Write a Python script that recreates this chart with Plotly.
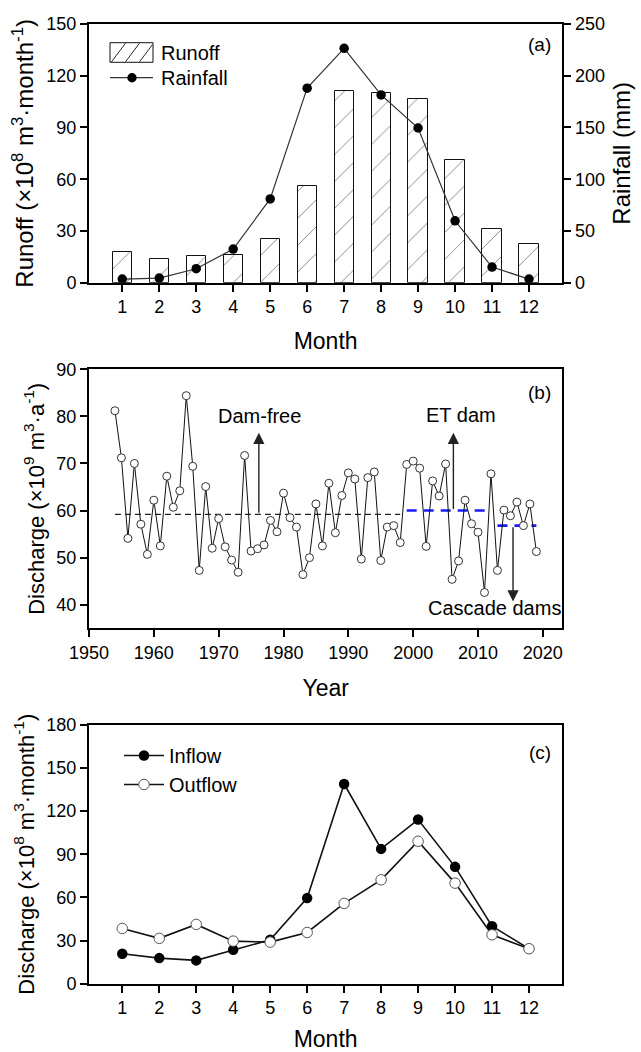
import plotly.graph_objects as go

# ---------------- data ----------------
months = list(range(1, 13))
runoff = [17.9, 13.7, 15.2, 16.0, 25.4, 56.1, 111.2, 109.9, 106.4, 71.3, 31.4, 22.6]
rainfall = [3.5, 4.5, 13.5, 32.5, 81.0, 188.0, 226.5, 181.5, 149.5, 59.8, 15.1, 3.5]

years = list(range(1954, 2020))
discharge = [81.2, 71.2, 54.1, 70.0, 57.1, 50.7, 62.2, 52.5, 67.3, 60.7,
             64.2, 84.4, 69.4, 47.3, 65.1, 52.0, 58.3, 52.3, 49.5, 46.9,
             71.7, 51.4, 51.9, 52.7, 57.9, 55.5, 63.7, 58.5, 56.5, 46.4,
             50.0, 61.4, 52.5, 65.8, 55.3, 63.2, 68.0, 66.7, 49.7, 67.0,
             68.2, 49.4, 56.5, 56.8, 53.2, 69.8, 70.5, 69.0, 52.4, 66.3,
             63.1, 69.9, 45.4, 49.3, 62.2, 57.2, 55.4, 42.6, 67.8, 47.3,
             60.1, 58.9, 61.8, 56.8, 61.4, 51.3]

period_start = [1954, 1999, 2013]
period_end = [1998, 2011.6, 2019]
period_mean = [59.2, 60.0, 56.8]
period_color = ["#222222", "#1a1aff", "#1a1aff"]

arrow_labels = ["Dam-free", "ET dam", "Cascade dams"]
arrow_x = [1976.2, 2006.2, 2015.4]
arrow_from = [59.2, 60.0, 56.8]
arrow_to = [76.5, 76.5, 40.7]
label_x = [1976.3, 2007.3, 2012.6]
label_y = [80.1, 80.3, 39.3]

inflow = [20.8, 17.8, 16.2, 23.6, 30.5, 59.5, 138.8, 93.7, 114.1, 81.2, 40.0, 24.3]
outflow = [38.4, 31.5, 41.2, 29.6, 28.9, 35.6, 55.8, 72.2, 99.0, 69.9, 34.0, 24.3]

# ---------------- layout helpers ----------------
W, H = 641, 1052
FONT = "Liberation Sans, Arial, sans-serif"


def px_x(p):
    return p / W


def px_y(p):
    return 1 - p / H


xdom = [px_x(89), px_x(562.3)]

fig = go.Figure()

# (a) runoff bars + rainfall line
fig.add_trace(go.Bar(
    x=months, y=runoff, name="Runoff", width=0.52, showlegend=False,
    marker=dict(color="white", line=dict(color="#111111", width=1),
                pattern=dict(shape="/", size=19, solidity=0.05,
                             fgcolor="#111111", bgcolor="white")),
    xaxis="x", yaxis="y"))
fig.add_trace(go.Scatter(
    x=months, y=rainfall, name="Rainfall", mode="lines+markers", showlegend=False,
    line=dict(color="#333333", width=1.2),
    marker=dict(color="black", size=9.5),
    xaxis="x", yaxis="y2"))

# (b) annual discharge
for s, e, m, c in zip(period_start, period_end, period_mean, period_color):
    is_blue = c != "#222222"
    fig.add_trace(go.Scatter(
        x=[s, e], y=[m, m], mode="lines", showlegend=False,
        line=dict(color=c, width=2.6 if is_blue else 1.4,
                  dash="10px,7px" if is_blue else "6px,4px"),
        xaxis="x2", yaxis="y3"))
fig.add_trace(go.Scatter(
    x=years, y=discharge, mode="lines+markers", showlegend=False,
    line=dict(color="#111111", width=1),
    marker=dict(symbol="circle", size=8, color="white",
                line=dict(color="#333333", width=1)),
    xaxis="x2", yaxis="y3"))

# (c) inflow / outflow
fig.add_trace(go.Scatter(
    x=months, y=inflow, name="Inflow", mode="lines+markers",
    line=dict(color="#111111", width=1.6),
    marker=dict(color="black", size=10.5),
    xaxis="x3", yaxis="y4", legend="legend"))
fig.add_trace(go.Scatter(
    x=months, y=outflow, name="Outflow", mode="lines+markers",
    line=dict(color="#111111", width=1.6),
    marker=dict(color="white", size=10.5, line=dict(color="#555555", width=1)),
    xaxis="x3", yaxis="y4", legend="legend"))

tickfont = dict(family=FONT, size=18, color="black")
axis_common = dict(showline=True, linecolor="black", linewidth=2,
                   ticks="outside", ticklen=7, tickwidth=1.5, tickcolor="black",
                   showgrid=False, zeroline=False, tickfont=tickfont,
                   automargin=False)

month_x = dict(axis_common, range=[0.1, 12.9], tickmode="array",
               tickvals=months, ticktext=[str(m) for m in months],
               mirror=True, domain=xdom)

fig.update_layout(
    width=W, height=H,
    margin=dict(l=0, r=0, t=0, b=0),
    paper_bgcolor="white", plot_bgcolor="white",
    font=dict(family=FONT, color="black"),
    bargap=0,
    xaxis=dict(month_x, anchor="y",
               title=dict(text="Month", font=dict(size=23), standoff=17)),
    yaxis=dict(axis_common, domain=[px_y(282.7), px_y(24)], range=[0, 150],
               tickvals=[0, 30, 60, 90, 120, 150], anchor="x",
               title=dict(text="Runoff (×10<sup>8</sup> m<sup>3</sup>·month<sup>-1</sup>)",
                          font=dict(size=24), standoff=6)),
    yaxis2=dict(axis_common, overlaying="y", side="right", range=[0, 250],
                tickvals=[0, 50, 100, 150, 200, 250], anchor="x",
                title=dict(text="Rainfall (mm)", font=dict(size=24), standoff=9)),
    xaxis2=dict(axis_common, domain=xdom, range=[1950, 2023],
                tickvals=[1950, 1960, 1970, 1980, 1990, 2000, 2010, 2020],
                mirror=True, anchor="y3",
                title=dict(text="Year", font=dict(size=23), standoff=18)),
    yaxis3=dict(axis_common, domain=[px_y(628.3), px_y(369.3)], range=[35, 90],
                tickvals=[40, 50, 60, 70, 80, 90], mirror=True, anchor="x2",
                title=dict(text="Discharge (×10<sup>9</sup> m<sup>3</sup>·a<sup>-1</sup>)",
                           font=dict(size=22), standoff=6)),
    xaxis3=dict(month_x, anchor="y4",
                title=dict(text="Month", font=dict(size=23), standoff=17)),
    yaxis4=dict(axis_common, domain=[px_y(983.7), px_y(724.7)], range=[0, 180],
                tickvals=[0, 30, 60, 90, 120, 150, 180], mirror=True, anchor="x3",
                title=dict(text="Discharge (×10<sup>8</sup> m<sup>3</sup>·month<sup>-1</sup>)",
                           font=dict(size=22), standoff=6)),
    legend=dict(x=px_x(119), y=px_y(736), xanchor="left", yanchor="top",
                bgcolor="rgba(0,0,0,0)", font=dict(family=FONT, size=20),
                tracegroupgap=0, itemwidth=40),
)

# ---- legend of panel (a), drawn as decoration (hatched box + line key) ----
shapes = []
bx0, bx1, by0, by1 = 110, 153, 42.7, 62.3
shapes.append(dict(type="rect", xref="paper", yref="paper",
                   x0=px_x(bx0), x1=px_x(bx1), y0=px_y(by1), y1=px_y(by0),
                   line=dict(color="#111111", width=1), fillcolor="white"))
for d in [111.5, 125.5, 139.5]:
    xe = min(d + 14, bx1 - 0.5)
    ye = by1 - (xe - d) / 14 * (by1 - by0)
    shapes.append(dict(type="line", xref="paper", yref="paper",
                       x0=px_x(d), y0=px_y(by1 - 0.5), x1=px_x(xe), y1=px_y(ye + 0.5),
                       line=dict(color="#2a2a2a", width=1)))
ly = 77.7
shapes.append(dict(type="line", xref="paper", yref="paper",
                   x0=px_x(110), x1=px_x(153), y0=px_y(ly), y1=px_y(ly),
                   line=dict(color="#333333", width=1.2)))
shapes.append(dict(type="circle", xref="paper", yref="paper",
                   x0=px_x(132 - 4.7), x1=px_x(132 + 4.7),
                   y0=px_y(ly + 4.7), y1=px_y(ly - 4.7),
                   line=dict(color="black", width=0), fillcolor="black"))

annotations = []
for lab, yy in [("Runoff", 52.5), ("Rainfall", 77.7)]:
    annotations.append(dict(text=lab, xref="paper", yref="paper",
                            x=px_x(159), y=px_y(yy), xanchor="left",
                            yanchor="middle", showarrow=False,
                            font=dict(family=FONT, size=20)))
for lab, yy in zip(["(a)", "(b)", "(c)"], [44, 392, 752]):
    annotations.append(dict(text=lab, xref="paper", yref="paper",
                            x=px_x(553), y=px_y(yy), xanchor="right",
                            yanchor="middle", showarrow=False,
                            font=dict(family=FONT, size=19)))
for ax_, a0, a1 in zip(arrow_x, arrow_from, arrow_to):
    annotations.append(dict(text="", x=ax_, y=a1, ax=ax_, ay=a0,
                            xref="x2", yref="y3", axref="x2", ayref="y3",
                            showarrow=True, arrowhead=2, arrowsize=1.6,
                            arrowwidth=1.4, arrowcolor="#222222"))
for lab, lx, ly_ in zip(arrow_labels, label_x, label_y):
    annotations.append(dict(text=lab, x=lx, y=ly_, xref="x2", yref="y3",
                            showarrow=False, xanchor="center", yanchor="middle",
                            font=dict(family=FONT, size=20)))
fig.update_layout(annotations=annotations, shapes=shapes)

fig.write_html("out.html")
